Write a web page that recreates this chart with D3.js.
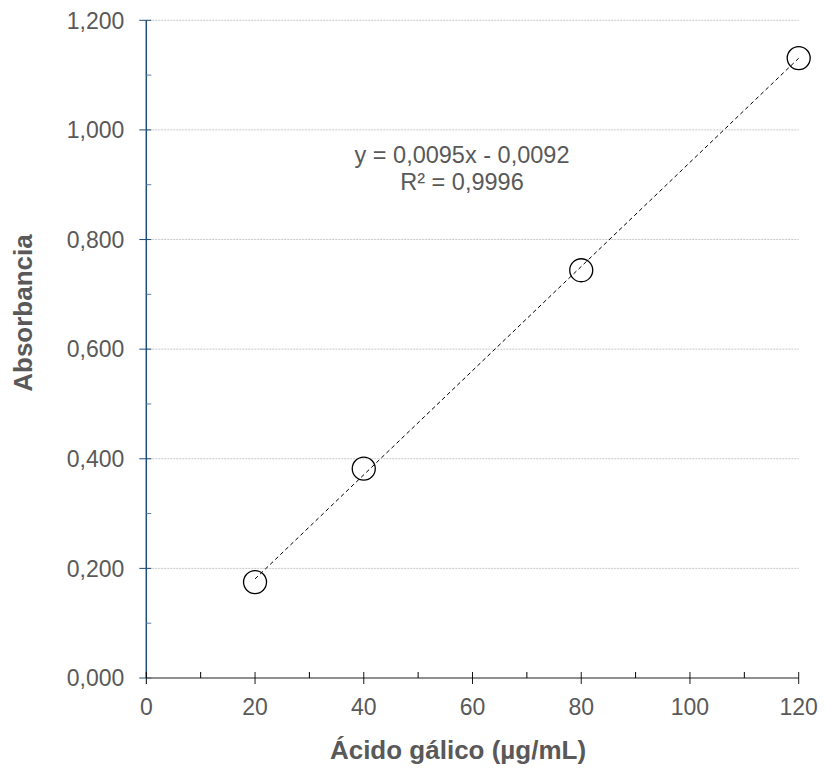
<!DOCTYPE html>
<html>
<head>
<meta charset="utf-8">
<script src="https://cdn.jsdelivr.net/npm/d3@7"></script>
<style>
  body { margin: 0; background: #fff; }
  svg { font-family: "Liberation Sans", Arial, sans-serif; }
</style>
</head>
<body>
<svg id="chart" width="825" height="772"></svg>
<script>
// data
const concentrations = [20, 40, 80, 120];
const absorbances = [0.175, 0.382, 0.744, 1.131];
const slope = 0.0095;
const intercept = -0.0092;
const xTicks = [0, 20, 40, 60, 80, 100, 120];
const yTicks = [0, 0.2, 0.4, 0.6, 0.8, 1.0, 1.2];
const equationLines = ["y = 0,0095x - 0,0092", "R² = 0,9996"];

const svg = d3.select("#chart");
const textColor = "#595959";

const x = d3.scaleLinear().domain([0, 120]).range([146.3, 798.7]);
const y = d3.scaleLinear().domain([0, 1.2]).range([678, 20.3]);

const fmtY = (v) => d3.format(",.3f")(v).replace(".", ",");

// gridlines
svg.append("g")
  .selectAll("line")
  .data(yTicks.filter((d) => d > 0))
  .enter()
  .append("line")
  .attr("x1", x(0))
  .attr("x2", x(120))
  .attr("y1", (d) => y(d))
  .attr("y2", (d) => y(d))
  .attr("stroke", "#c8c8c8")
  .attr("stroke-width", 1)
  .attr("stroke-dasharray", "2,1");

// y axis
const yAxis = svg.append("g").attr("transform", `translate(${x(0)},0)`);
yAxis.append("line")
  .attr("y1", y(0)).attr("y2", y(1.2))
  .attr("stroke", "#1f4e79").attr("stroke-width", 1.5);
yAxis.selectAll(".minor")
  .data(d3.range(0.1, 1.2, 0.2))
  .enter()
  .append("line")
  .attr("x1", 0).attr("x2", 5)
  .attr("y1", (d) => y(d)).attr("y2", (d) => y(d))
  .attr("stroke", "#5b7fa6").attr("stroke-width", 1);
yAxis.selectAll(".major")
  .data(yTicks)
  .enter()
  .append("line")
  .attr("x1", -7).attr("x2", 5)
  .attr("y1", (d) => y(d)).attr("y2", (d) => y(d))
  .attr("stroke", "#1f4e79").attr("stroke-width", 1);
yAxis.selectAll("text")
  .data(yTicks)
  .enter()
  .append("text")
  .attr("x", -22)
  .attr("y", (d) => y(d))
  .attr("dy", "0.36em")
  .attr("text-anchor", "end")
  .attr("font-size", 23)
  .attr("fill", textColor)
  .text(fmtY);

// x axis
const xAxis = svg.append("g").attr("transform", `translate(0,${y(0)})`);
xAxis.append("line")
  .attr("x1", x(0)).attr("x2", x(120))
  .attr("stroke", "#6b6b6b").attr("stroke-width", 1.5);
xAxis.selectAll(".minor")
  .data(d3.range(10, 120, 20))
  .enter()
  .append("line")
  .attr("x1", (d) => x(d)).attr("x2", (d) => x(d))
  .attr("y1", -6).attr("y2", 0)
  .attr("stroke", "#000").attr("stroke-width", 1);
xAxis.selectAll(".major")
  .data(xTicks)
  .enter()
  .append("line")
  .attr("x1", (d) => x(d)).attr("x2", (d) => x(d))
  .attr("y1", -6).attr("y2", 6)
  .attr("stroke", "#000").attr("stroke-width", 1)
  .attr("stroke-opacity", (d) => (d === 0 ? 1 : 0.9));
xAxis.selectAll("text")
  .data(xTicks)
  .enter()
  .append("text")
  .attr("x", (d) => x(d))
  .attr("y", 37)
  .attr("text-anchor", "middle")
  .attr("font-size", 23)
  .attr("fill", textColor)
  .text((d) => d);

// trend line
const xs = d3.extent(concentrations);
svg.append("line")
  .attr("x1", x(xs[0])).attr("y1", y(slope * xs[0] + intercept))
  .attr("x2", x(xs[1])).attr("y2", y(slope * xs[1] + intercept))
  .attr("stroke", "#000").attr("stroke-width", 1)
  .attr("stroke-dasharray", "4,3");

// points
svg.selectAll(".pt")
  .data(concentrations)
  .enter()
  .append("circle")
  .attr("cx", (d) => x(d))
  .attr("cy", (d, i) => y(absorbances[i]))
  .attr("r", 11.5)
  .attr("fill", "none")
  .attr("stroke", "#000")
  .attr("stroke-width", 1.3);

// equation
svg.selectAll(".eq")
  .data(equationLines)
  .enter()
  .append("text")
  .attr("x", 462)
  .attr("y", (d, i) => 163 + i * 27)
  .attr("text-anchor", "middle")
  .attr("font-size", 23.5)
  .attr("fill", textColor)
  .text((d) => d);

// axis titles
svg.append("text")
  .attr("x", 458)
  .attr("y", 759)
  .attr("text-anchor", "middle")
  .attr("font-size", 26)
  .attr("font-weight", "bold")
  .attr("fill", textColor)
  .text("Ácido gálico (µg/mL)");

svg.append("text")
  .attr("transform", "translate(32,313) rotate(-90)")
  .attr("text-anchor", "middle")
  .attr("font-size", 26)
  .attr("font-weight", "bold")
  .attr("fill", textColor)
  .text("Absorbancia");
</script>
</body>
</html>
